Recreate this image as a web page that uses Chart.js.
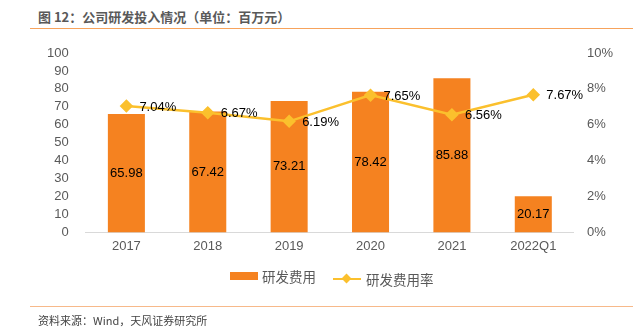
<!DOCTYPE html>
<html>
<head>
<meta charset="utf-8">
<script src="https://cdn.jsdelivr.net/npm/chart.js@4.4.0/dist/chart.umd.min.js"></script>
<style>
    body { margin: 0; background: #fff; font-family: "Liberation Sans", "Noto Sans CJK SC", sans-serif; }
    #wrap { position: relative; width: 633px; height: 333px; overflow: hidden; }
    #title { position: absolute; left: 38px; top: 7px; font-size: 13px; font-weight: bold; color: #595959; font-family: "Noto Sans CJK SC", sans-serif; }
    #topline { position: absolute; left: 30px; right: 0; top: 28px; height: 1px; background: #F7A35C; }
    #bottomline { position: absolute; left: 30px; right: 0; top: 306px; height: 1px; background: #F7B98A; }
    #source { position: absolute; left: 38px; top: 312px; font-size: 11px; color: #444; font-family: "Noto Sans CJK SC", sans-serif; }
    #chart-box { position: absolute; left: 0; top: 0; width: 633px; height: 333px; }
    #legend { position: absolute; top: 264px; left: 230px; font-size: 13.5px; color: #595959; font-family: "Noto Sans CJK SC", sans-serif; white-space: nowrap; }
    .item { display: inline-flex; align-items: center; margin-right: 14px; }
    .box { display: inline-block; width: 28px; height: 8px; background: #F58220; margin-right: 4px; }
    .line { position: relative; display: inline-block; width: 28px; height: 2px; background: #FBC02D; margin-right: 5px; }
    .line::after { content: ''; position: absolute; left: 10px; top: -3px; width: 7px; height: 7px; background: #FBC02D; transform: rotate(45deg); }
</style>
</head>
<body>
<div id="wrap">
    <div id="title">图 12：公司研发投入情况（单位：百万元）</div>
    <div id="topline"></div>
    <div id="chart-box"><canvas id="chart" width="633" height="333"></canvas></div>
    <div id="legend">
        <span class="item"><span class="box"></span>研发费用</span>
        <span class="item"><span class="line"></span>研发费用率</span>
    </div>
    <div id="bottomline"></div>
    <div id="source">资料来源：Wind，天风证券研究所</div>
</div>
<script>
const categories = ['2017', '2018', '2019', '2020', '2021', '2022Q1'];
const rdExpense = [65.98, 67.42, 73.21, 78.42, 85.88, 20.17];
const rdRatio = [7.04, 6.67, 6.19, 7.65, 6.56, 7.67];
const leftTicks = [0, 10, 20, 30, 40, 50, 60, 70, 80, 90, 100];
const rightTicks = [0, 2, 4, 6, 8, 10];

const tickColor = '#595959';
const tickFont = { family: '"Liberation Sans", Arial, sans-serif', size: 13 };

// draws value labels: bar values centered, ratio labels to the right of points
const valueLabels = {
    id: 'valueLabels',
    afterDatasetsDraw(chart) {
        const ctx = chart.ctx;
        ctx.save();
        ctx.font = '13px "Liberation Sans", Arial, sans-serif';
        ctx.fillStyle = '#000';
        ctx.textBaseline = 'middle';

        chart.getDatasetMeta(0).data.forEach((bar, i) => {
            ctx.textAlign = 'center';
            ctx.fillText(rdExpense[i].toFixed(2), bar.x, (bar.y + bar.base) / 2);
        });
        chart.getDatasetMeta(1).data.forEach((pt, i) => {
            ctx.textAlign = 'left';
            ctx.fillText(rdRatio[i].toFixed(2) + '%', pt.x + 13, pt.y + 1);
        });
        ctx.restore();
    }
};

new Chart(document.getElementById('chart'), {
    data: {
        labels: categories,
        datasets: [{
            type: 'bar',
            label: '研发费用',
            data: rdExpense,
            backgroundColor: '#F58220',
            yAxisID: 'y',
            barPercentage: 0.455,
            categoryPercentage: 1,
            order: 2
        }, {
            type: 'line',
            label: '研发费用率',
            data: rdRatio,
            borderColor: '#FBC02D',
            backgroundColor: '#FBC02D',
            borderWidth: 2.5,
            pointStyle: 'rectRot',
            pointRadius: 5,
            pointHoverRadius: 5,
            tension: 0,
            yAxisID: 'y1',
            order: 1
        }]
    },
    options: {
        responsive: false,
        animation: false,
        layout: {
            padding: { left: 38, right: 15, top: 53, bottom: 73 }
        },
        plugins: {
            tooltip: { enabled: false },
            legend: { display: false }
        },
        scales: {
            x: {
                grid: { display: false, drawTicks: false },
                border: { color: '#D9D9D9' },
                ticks: { color: tickColor, font: tickFont, padding: 6 }
            },
            y: {
                position: 'left',
                min: 0,
                max: 100,
                grid: { display: false },
                border: { display: false },
                afterBuildTicks(axis) { axis.ticks = leftTicks.map(v => ({ value: v })); },
                ticks: { color: tickColor, font: tickFont, padding: 9, autoSkip: false }
            },
            y1: {
                position: 'right',
                min: 0,
                max: 10,
                grid: { display: false },
                border: { display: false },
                afterBuildTicks(axis) { axis.ticks = rightTicks.map(v => ({ value: v })); },
                ticks: { color: tickColor, font: tickFont, padding: 5, autoSkip: false, callback: v => v + '%' }
            }
        }
    },
    plugins: [valueLabels]
});
</script>
</body>
</html>
